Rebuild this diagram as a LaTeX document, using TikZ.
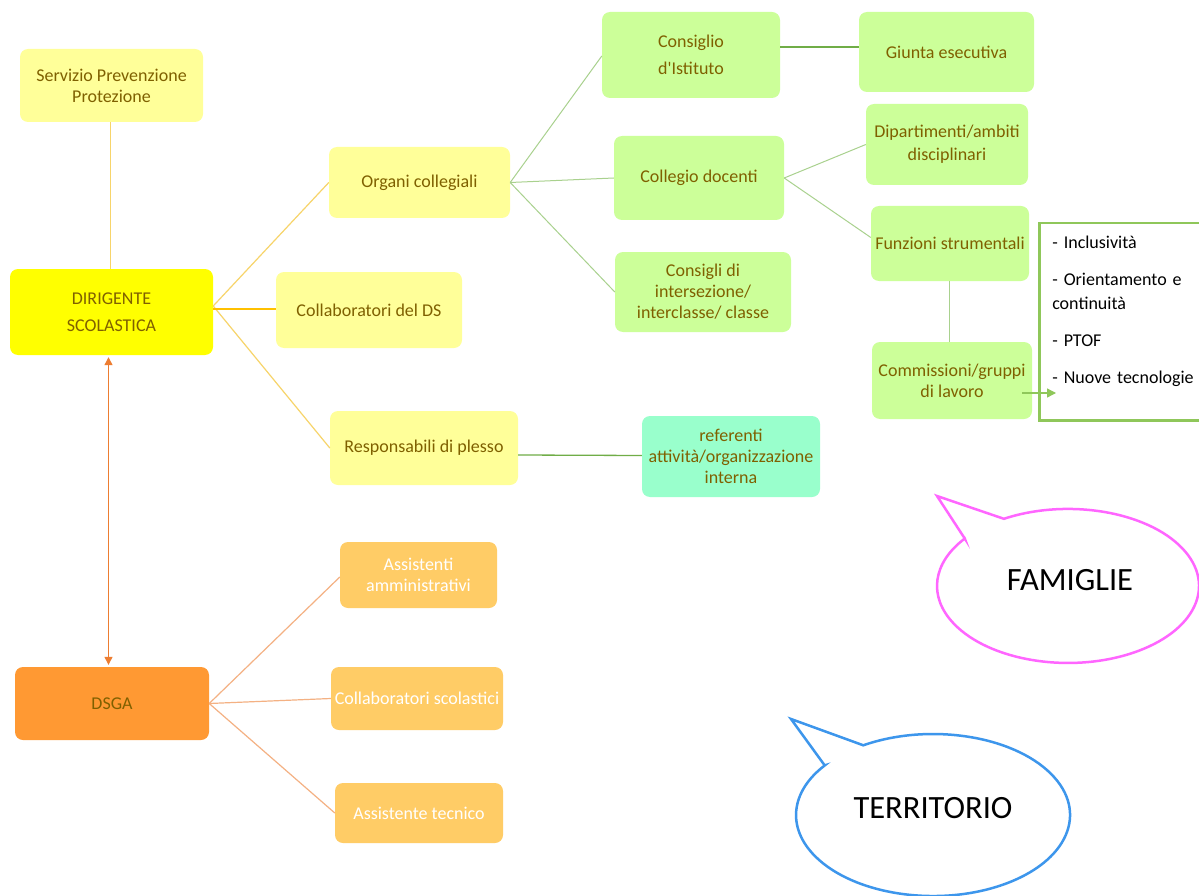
\documentclass[tikz,border=0pt]{standalone}
\usepackage{fontspec}
\setmainfont{Carlito}[Ligatures=TeXOff]
\usetikzlibrary{arrows.meta,calc}
\definecolor{txt}{HTML}{7F6000}
\definecolor{ylw}{HTML}{FFFF99}
\definecolor{ylwstrong}{HTML}{FFFF00}
\definecolor{grn}{HTML}{CCFF99}
\definecolor{mint}{HTML}{99FFCC}
\definecolor{orl}{HTML}{FFCC66}
\definecolor{ords}{HTML}{FF9933}
\definecolor{ylline}{HTML}{F7D46A}
\definecolor{ylthick}{HTML}{FFC000}
\definecolor{gline}{HTML}{A9D18E}
\definecolor{gdark}{HTML}{70AD47}
\definecolor{gbox}{HTML}{8FC75A}
\definecolor{orline}{HTML}{F4B183}
\definecolor{orarrow}{HTML}{ED7D31}
\definecolor{magenta2}{HTML}{FF66FF}
\definecolor{blue2}{HTML}{3D96EC}
\begin{document}
\begin{tikzpicture}[x=1pt,y=1pt,
  box/.style={rounded corners=8pt, inner sep=0pt, align=center, text=txt,
    font=\fontsize{18}{21}\selectfont},
  wbox/.style={box, text=white},
  yline/.style={draw=ylline, line width=1.2pt},
  ythick/.style={draw=ylthick, line width=2.8pt},
  gthin/.style={draw=gline, line width=1pt},
  gthick/.style={draw=gdark, line width=2.5pt},
  gmid/.style={draw=gdark, line width=1.3pt},
  oline/.style={draw=orline, line width=1.2pt},
  calloutF/.style={draw=magenta2, line width=2.5pt, fill=white, line join=miter},
  calloutT/.style={draw=blue2, line width=2.5pt, fill=white, line join=miter},
  bigtext/.style={font=\fontsize{32.5}{38}\selectfont},
]
\useasboundingbox (0,0) rectangle (1199,-896);
\fill[white] (0,0) rectangle (1199,-896);

% --- nodes ---
\node[box, fill=ylw, minimum width=183, minimum height=73] (spp) at (111.5,-85.5) {Servizio Prevenzione\\Protezione};
\node[box, fill=ylwstrong, minimum width=203, minimum height=86] (dir) at (111.5,-312) {DIRIGENTE\\[6pt]SCOLASTICA};
\node[box, fill=ylw, minimum width=181, minimum height=71] (org) at (419.5,-182.5) {Organi collegiali};
\node[box, fill=ylw, minimum width=186, minimum height=76] (cds) at (369,-310) {Collaboratori del DS};
\node[box, fill=ylw, minimum width=188, minimum height=74] (resp) at (424,-448) {Responsabili di plesso};

\node[box, fill=grn, minimum width=178, minimum height=86] (ci) at (691,-55) {Consiglio\\[6pt]d'Istituto};
\node[box, fill=grn, minimum width=175, minimum height=80] (giu) at (946.5,-52) {Giunta esecutiva};
\node[box, fill=grn, minimum width=170, minimum height=84] (cdoc) at (699,-178) {Collegio docenti};
\node[box, fill=grn, minimum width=176, minimum height=80] (cint) at (703,-292) {Consigli di\\intersezione/\\interclasse/ classe};
\node[box, fill=grn, minimum width=162, minimum height=81] (dip) at (947,-144.5) {Dipartimenti/ambiti\\[2pt]disciplinari};
\node[box, fill=grn, minimum width=158, minimum height=75] (fun) at (950,-243.5) {Funzioni strumentali};
\node[box, fill=grn, minimum width=160, minimum height=77] (com) at (952,-380.5) {Commissioni/gruppi\\di lavoro};
\node[box, fill=mint, minimum width=178, minimum height=81] (ref) at (731,-456.5) {referenti\\attività/organizzazione\\interna};

\node[draw=gbox, line width=2.5pt, fill=white, anchor=north west, minimum height=197,
  inner xsep=13pt, inner ysep=0pt, align=left, text width=142, font=\fontsize{18}{24}\selectfont]
  (lst) at (1038,-222) {- Inclusività\\[13pt]- Orientamento e\\continuità\\[13pt]- PTOF\\[13pt]- Nuove tecnologie\rule[-24pt]{0pt}{0pt}};

\node[box, fill=ords, minimum width=194, minimum height=73] (dsga) at (112,-703.5) {DSGA};
\node[wbox, fill=orl, minimum width=157, minimum height=66] (aam) at (418.5,-575) {Assistenti\\amministrativi};
\node[wbox, fill=orl, minimum width=172, minimum height=63] (csc) at (417,-698.5) {Collaboratori scolastici};
\node[wbox, fill=orl, minimum width=168, minimum height=60] (ate) at (419,-813) {Assistente tecnico};

% --- connectors ---
\coordinate (dirout) at ([yshift=6pt]dir.east);
\draw[yline] ([xshift=-1pt]spp.south) -- ([xshift=-1pt]dir.north);
\draw[yline] (dirout) -- (org.west);
\draw[yline] (dirout) -- (resp.west);
\draw[ythick] ([yshift=3pt]dir.east) -- ([yshift=1pt]cds.west);
\draw[draw=orarrow, line width=1.2pt, {Triangle[length=8pt,width=8pt]}-{Triangle[length=8pt,width=8pt]}, shorten <=2pt, shorten >=2pt]
  ([xshift=-3pt]dir.south) -- ([xshift=-3.5pt]dsga.north);

\draw[gthin] (org.east) -- ([yshift=-1pt]ci.west);
\draw[gthin] (org.east) -- (cdoc.west);
\draw[gthin] (org.east) -- (cint.west);
\draw[gthick] ([yshift=8pt]ci.east) -- ([yshift=5pt]giu.west);
\draw[gthin] (cdoc.east) -- (dip.west);
\draw[gthin] (cdoc.east) -- ([yshift=6pt]fun.west);
\draw[gthin] ([xshift=-0.5pt]fun.south) -- ([xshift=-2.5pt]com.north);
\coordinate (arrend) at (1056,-393);
\draw[draw=gbox, line width=1.3pt, -{Triangle[length=9pt,width=9pt]}] ([xshift=-10pt,yshift=-12.5pt]com.east) -- (arrend);
\draw[gmid] ([yshift=-7pt]resp.east) -- ([yshift=1pt]ref.west);

\draw[oline] (dsga.east) -- ([yshift=-2pt]aam.west);
\draw[oline] (dsga.east) -- (csc.west);
\draw[oline] (dsga.east) -- (ate.west);

% --- callouts ---
\draw[calloutF] (964.8,-538.6) -- (937,-496) -- (1003.9,-518.8)
  arc[start angle=119.3, end angle=-218, x radius=131pt, y radius=77pt] -- cycle;
\node[bigtext] (fam) at (1070,-580) {FAMIGLIE};
\draw[calloutT] (824.7,-765.4) -- (791,-719) -- (863.3,-745.3)
  arc[start angle=120.6, end angle=-217.8, x radius=137pt, y radius=81pt] -- cycle;
\node[bigtext] (ter) at (933,-808) {TERRITORIO};
\end{tikzpicture}
\end{document}
